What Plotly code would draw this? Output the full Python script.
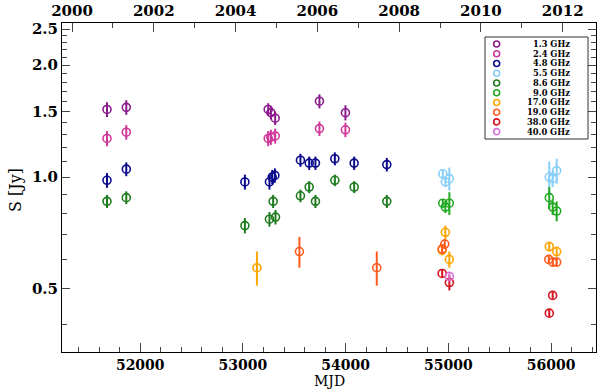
import numpy as np
import plotly.graph_objects as go

# flux density light curves (MJD, S [Jy], error) per observing band
bands = ['1.3 GHz', '2.4 GHz', '4.8 GHz', '5.5 GHz', '8.6 GHz',
         '9.0 GHz', '17.0 GHz', '19.0 GHz', '38.0 GHz', '40.0 GHz']
colors = ['#8B1A8B', '#D0379A', '#0A0A8C', '#87CEFA', '#1E7B1E',
          '#22AA22', '#FFA500', '#FF5A1E', '#D7111E', '#DA70D6']

mjd_1p3 = [51676, 51864, 53246, 53272, 53314, 53745, 53998]
s_1p3 = [1.52, 1.54, 1.52, 1.49, 1.44, 1.60, 1.49]
e_1p3 = [0.07, 0.07, 0.06, 0.06, 0.06, 0.07, 0.07]

mjd_2p4 = [51676, 51864, 53246, 53272, 53314, 53745, 53998]
s_2p4 = [1.27, 1.32, 1.27, 1.28, 1.29, 1.35, 1.34]
e_2p4 = [0.06, 0.06, 0.06, 0.06, 0.06, 0.06, 0.06]

mjd_4p8 = [51676, 51864, 53019, 53258, 53285, 53311, 53560, 53645, 53706, 53895, 54083, 54401]
s_4p8 = [0.98, 1.05, 0.97, 0.97, 1.00, 1.01, 1.11, 1.09, 1.09, 1.12, 1.09, 1.08]
e_4p8 = [0.045] * 12

mjd_5p5 = [54946, 54971, 55010, 55983, 56016, 56055]
s_5p5 = [1.02, 0.97, 0.99, 1.00, 0.99, 1.04]
e_5p5 = [0.03, 0.03, 0.07, 0.10, 0.05, 0.08]

mjd_8p6 = [51676, 51864, 53019, 53258, 53294, 53317, 53560, 53645, 53706, 53895, 54083, 54401]
s_8p6 = [0.86, 0.88, 0.74, 0.77, 0.86, 0.78, 0.89, 0.94, 0.86, 0.98, 0.94, 0.86]
e_8p6 = [0.035] * 12

mjd_9p0 = [54946, 54971, 55010, 55983, 56016, 56055]
s_9p0 = [0.85, 0.83, 0.85, 0.88, 0.83, 0.81]
e_9p0 = [0.02, 0.03, 0.06, 0.06, 0.04, 0.05]

mjd_17 = [53136, 54971, 54940, 55010, 55983, 56055]
s_17 = [0.57, 0.71, 0.635, 0.60, 0.65, 0.63]
e_17 = [0.06, 0.03, 0.02, 0.03, 0.02, 0.02]

mjd_19 = [53550, 54303, 54965, 54940, 55978, 56016, 56055]
s_19 = [0.63, 0.57, 0.66, 0.64, 0.60, 0.59, 0.59]
e_19 = [0.06, 0.06, 0.02, 0.02, 0.015, 0.015, 0.015]

mjd_38 = [54940, 55010, 56016, 55983]
s_38 = [0.55, 0.52, 0.48, 0.43]
e_38 = [0.015, 0.025, 0.01, 0.01]

mjd_40 = [55010]
s_40 = [0.54]
e_40 = [0.01]

series = [(mjd_1p3, s_1p3, e_1p3), (mjd_2p4, s_2p4, e_2p4), (mjd_4p8, s_4p8, e_4p8),
          (mjd_5p5, s_5p5, e_5p5), (mjd_8p6, s_8p6, e_8p6), (mjd_9p0, s_9p0, e_9p0),
          (mjd_17, s_17, e_17), (mjd_19, s_19, e_19), (mjd_38, s_38, e_38),
          (mjd_40, s_40, e_40)]

y_ticks = [0.5, 1.0, 1.5, 2.0, 2.5]
y_minor = [0.4, 0.6, 0.7, 0.8, 0.9, 1.1, 1.2, 1.3, 1.4, 1.6, 1.7, 1.8, 1.9,
           2.1, 2.2, 2.3, 2.4]
mjd_ticks = [52000, 53000, 54000, 55000, 56000]
year_ticks = [2000, 2002, 2004, 2006, 2008, 2010, 2012]

# plot area in pixels
W, H = 600, 390
L, R, T, B = 62, 4, 23, 38
pw, ph = W - L - R, H - T - B

serif = 'DejaVu Serif'
tickfont = dict(family=serif, size=15, color='black', weight='bold')
xtickfont = dict(family=serif, size=14, color='black', weight='bold')

fig = go.Figure()
for name, col, (x, y, e) in zip(bands, colors, series):
    fig.add_trace(go.Scatter(
        x=x, y=y, mode='markers', name=name,
        marker=dict(symbol='circle-open', size=8, color=col, line=dict(width=1.6, color=col)),
        error_y=dict(type='data', array=e, visible=True, color=col, thickness=2, width=0),
        showlegend=False,
    ))

# invisible trace so the top (calendar year) axis gets drawn
fig.add_trace(go.Scatter(x=year_ticks, y=[1.0] * len(year_ticks), xaxis='x2', mode='markers',
                         marker=dict(opacity=0), hoverinfo='skip', showlegend=False))

fig.update_layout(
    width=W, height=H,
    margin=dict(l=L, r=R, t=T, b=B),
    paper_bgcolor='white', plot_bgcolor='white',
    showlegend=False,
    xaxis=dict(range=[51238, 56438], tickvals=mjd_ticks, ticktext=[str(v) for v in mjd_ticks],
               ticks='inside', ticklen=9, automargin=False, ticklabelstandoff=0,
               tickcolor='#444', showline=True, linecolor='black', linewidth=1,
               showgrid=False, zeroline=False, tickfont=xtickfont,
               minor=dict(tick0=0, dtick=200, ticks='inside', ticklen=5, tickcolor='#444')),
    xaxis2=dict(overlaying='x', side='top', anchor='y', range=[1999.755, 2012.814],
                tickvals=year_ticks, ticktext=[str(v) for v in year_ticks],
                ticks='inside', ticklen=9, tickcolor='#444', automargin=False,
                showline=True, linecolor='black', linewidth=1, showgrid=False,
                zeroline=False, tickfont=tickfont,
                minor=dict(tick0=0, dtick=1, ticks='inside', ticklen=5, tickcolor='#444')),
    yaxis=dict(type='log', range=[np.log10(0.338), np.log10(2.598)],
               tickvals=y_ticks, ticktext=[f'{v:.1f}' for v in y_ticks],
               ticks='inside', ticklen=8, tickcolor='#444', showline=True, automargin=False,
               linecolor='black', linewidth=1, mirror='ticks', showgrid=False,
               zeroline=False, tickfont=tickfont,
               minor=dict(tickvals=y_minor, ticks='inside', ticklen=5, tickcolor='#444')),
)

# axis titles
fig.add_annotation(text='MJD', xref='paper', yref='paper', x=0.5, y=-(380.5 - (T + ph)) / ph,
                   showarrow=False, font=dict(family=serif, size=14, color='black'),
                   xanchor='center', yanchor='middle')
fig.add_annotation(text='S [Jy]', xref='paper', yref='paper', x=-(L - 15) / pw, y=(T + ph - 190) / ph,
                   showarrow=False, textangle=-90, font=dict(family=serif, size=16, color='black'),
                   xanchor='center', yanchor='middle')

# hand-made legend (compact rows)
def px(xp):
    return (xp - L) / pw

def py(yp):
    return (T + ph - yp) / ph

fig.add_shape(type='rect', xref='paper', yref='paper', x0=px(485), x1=px(588),
              y0=py(139), y1=py(37), line=dict(color='#333', width=1), fillcolor='white')
for i, (name, col) in enumerate(zip(bands, colors)):
    yy = py(44 + i * 9.74)
    fig.add_shape(type='circle', xref='paper', yref='paper', xsizemode='pixel', ysizemode='pixel',
                  xanchor=px(496.7), yanchor=yy, x0=-3, x1=3, y0=-3, y1=3,
                  line=dict(color=col, width=1.6))
    fig.add_annotation(text=name, xref='paper', yref='paper', x=px(571), y=yy,
                       xanchor='right', yanchor='middle', showarrow=False,
                       borderpad=0, font=dict(family=serif, size=8.3, color='black', weight='bold'))

# drop the browser's default 8px page margin so the figure sits at the window corner
fig.write_html('out.html', config={'displayModeBar': False},
               post_script="document.body.style.margin='0';")
